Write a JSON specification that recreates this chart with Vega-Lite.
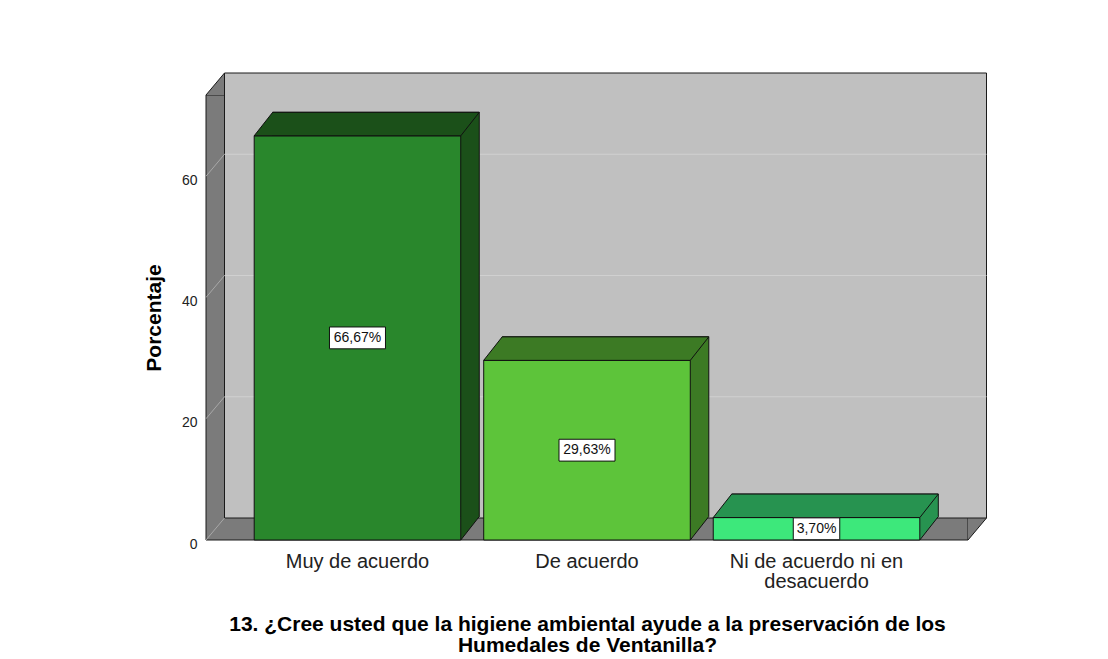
{
  "$schema": "https://vega.github.io/schema/vega-lite/v6.json",
  "width": 762,
  "height": 445,
  "autosize": {"type": "none"},
  "padding": {"left": 206, "top": 95, "right": 140, "bottom": 119},
  "background": "white",
  "config": {"view": {"stroke": null}, "font": "Liberation Sans"},
  "data": {"values": [
    {"respuesta": "Muy de acuerdo", "porcentaje": 66.67, "etiqueta": "66,67%"},
    {"respuesta": "De acuerdo", "porcentaje": 29.63, "etiqueta": "29,63%"},
    {"respuesta": "Ni de acuerdo ni en desacuerdo", "porcentaje": 3.70, "etiqueta": "3,70%"}
  ]},
  "resolve": {"scale": {"y": "independent"}},
  "encoding": {
    "x": {
      "field": "respuesta", "type": "nominal", "sort": null,
      "scale": {"paddingInner": 0.1, "paddingOuter": 0.21},
      "axis": {
        "domain": false, "ticks": false, "grid": false, "labelAngle": 0,
        "labelFontSize": 20, "labelColor": "#222222", "labelPadding": 11, "labelLineHeight": 20, "labelLimit": 0,
        "labelExpr": "datum.value == 'Ni de acuerdo ni en desacuerdo' ? ['Ni de acuerdo ni en', 'desacuerdo'] : datum.label",
        "title": ["13. ¿Cree usted que la higiene ambiental ayude a la preservación de los", "Humedales de Ventanilla?"],
        "titleFontSize": 21, "titleFontWeight": "bold", "titleColor": "#000000", "titleLineHeight": 21, "titlePadding": 22
      }
    }
  },
  "layer": [
    {
      "data": {"values": [{}]},
      "mark": {"type": "rect", "fill": "#7b7b7b", "stroke": "#1a1a1a", "strokeWidth": 1},
      "encoding": {"x": {"value": 0}, "x2": {"value": "width"}, "y": {"value": 0}, "y2": {"value": "height"}}
    },
    {
      "data": {"values": [{}]},
      "mark": {"type": "point", "shape": "M0,0L0.185,-0.22L0.185,0Z", "size": 40000, "filled": true, "fill": "#7b7b7b", "strokeWidth": 0, "opacity": 1},
      "encoding": {"x": {"value": 0}, "y": {"value": 0}}
    },
    {
      "data": {"values": [{}]},
      "mark": {"type": "point", "shape": "M0,0L0,-0.22L0.185,-0.22Z", "size": 40000, "filled": true, "fill": "#7b7b7b", "strokeWidth": 0, "opacity": 1},
      "encoding": {"x": {"value": "width"}, "y": {"value": "height"}}
    },
    {
      "data": {"values": [{}]},
      "mark": {"type": "point", "shape": "M0,0L0.185,-0.22", "size": 40000, "filled": false, "stroke": "#1a1a1a", "strokeWidth": 1, "opacity": 1},
      "encoding": {"x": {"value": 0}, "y": {"value": 0}}
    },
    {
      "data": {"values": [{}]},
      "mark": {"type": "point", "shape": "M0,0L0.185,-0.22", "size": 40000, "filled": false, "stroke": "#1a1a1a", "strokeWidth": 1, "opacity": 1},
      "encoding": {"x": {"value": "width"}, "y": {"value": "height"}}
    },
    {
      "data": {"values": [{}]},
      "mark": {"type": "rect", "fill": "#c0c0c0", "stroke": "#1a1a1a", "strokeWidth": 1, "xOffset": 18.5, "x2Offset": 18.5, "yOffset": -22, "y2Offset": -22},
      "encoding": {"x": {"value": 0}, "x2": {"value": "width"}, "y": {"value": 0}, "y2": {"value": "height"}}
    },
    {
      "data": {"values": [{"v": 20}, {"v": 40}, {"v": 60}]},
      "mark": {"type": "rule", "stroke": "#d0d0d0", "strokeWidth": 1, "xOffset": 18.5, "x2Offset": 18.5, "yOffset": -22},
      "encoding": {
        "x": {"value": 0}, "x2": {"value": "width"},
        "y": {"field": "v", "type": "quantitative", "scale": {"domain": [0, 73.4], "nice": false}, "axis": null}
      }
    },
    {
      "data": {"values": [{"v": 0}, {"v": 20}, {"v": 40}, {"v": 60}]},
      "mark": {"type": "point", "shape": "M0,0L0.185,-0.22", "size": 40000, "filled": false, "stroke": "#a8a8a8", "strokeWidth": 1, "opacity": 1},
      "encoding": {
        "x": {"value": 0},
        "y": {"field": "v", "type": "quantitative", "scale": {"domain": [0, 73.4], "nice": false}, "axis": null}
      }
    },
    {
      "mark": {"type": "bar", "xOffset": 18.5, "yOffset": -23.5, "y2Offset": -23.5, "stroke": "#111111", "strokeWidth": 1},
      "encoding": {
        "y": {"field": "porcentaje", "type": "quantitative", "scale": {"domain": [0, 73.4], "nice": false}, "axis": null},
        "fill": {"field": "respuesta", "type": "nominal", "scale": {"domain": ["Muy de acuerdo", "De acuerdo", "Ni de acuerdo ni en desacuerdo"], "range": ["#1b5019", "#3c7a24", "#279350"]}, "legend": null}
      }
    },
    {
      "mark": {"type": "point", "shape": "M1.033,0L1.033,-0.24L1.218,-0.24L1.218,-0.235Z", "size": 40000, "filled": true, "strokeWidth": 0, "opacity": 1},
      "encoding": {
        "y": {"datum": 0, "type": "quantitative", "scale": {"domain": [0, 73.4], "nice": false}, "axis": null},
        "fill": {"field": "respuesta", "type": "nominal", "scale": {"domain": ["Muy de acuerdo", "De acuerdo", "Ni de acuerdo ni en desacuerdo"], "range": ["#1b5019", "#3c7a24", "#279350"]}, "legend": null}
      }
    },
    {
      "mark": {"type": "bar", "stroke": "#111111", "strokeWidth": 1},
      "encoding": {
        "y": {
          "field": "porcentaje", "type": "quantitative",
          "scale": {"domain": [0, 73.4], "nice": false},
          "axis": {
            "values": [0, 20, 40, 60], "grid": false, "domain": false, "ticks": false,
            "labelFontSize": 14, "labelColor": "#222222", "labelPadding": 9, "labelOffset": 4,
            "title": "Porcentaje", "titleFontSize": 21, "titleFontWeight": "bold", "titleColor": "#000000", "titlePadding": 17
          }
        },
        "color": {"field": "respuesta", "type": "nominal", "scale": {"domain": ["Muy de acuerdo", "De acuerdo", "Ni de acuerdo ni en desacuerdo"], "range": ["#29872c", "#5dc43a", "#3de87b"]}, "legend": null}
      }
    },
    {
      "mark": {"type": "point", "shape": "M-1.033,0L-0.848,-0.235L1.218,-0.235L1.033,0Z", "size": 40000, "filled": true, "stroke": "#111111", "strokeWidth": 1, "opacity": 1},
      "encoding": {
        "y": {"field": "porcentaje", "type": "quantitative", "scale": {"domain": [0, 73.4], "nice": false}, "axis": null},
        "fill": {"field": "respuesta", "type": "nominal", "scale": {"domain": ["Muy de acuerdo", "De acuerdo", "Ni de acuerdo ni en desacuerdo"], "range": ["#1b5019", "#3c7a24", "#279350"]}, "legend": null}
      }
    },
    {
      "mark": {"type": "point", "shape": "M1.033,0L1.218,-0.235", "size": 40000, "filled": false, "stroke": "#111111", "strokeWidth": 1, "opacity": 1},
      "encoding": {
        "y": {"datum": 0, "type": "quantitative", "scale": {"domain": [0, 73.4], "nice": false}, "axis": null}
      }
    },
    {
      "mark": {"type": "point", "size": 3136, "filled": true, "fill": "#ffffff", "stroke": "#111111", "strokeWidth": 1, "opacity": 1},
      "encoding": {
        "y": {"field": "porcentaje", "type": "quantitative", "scale": {"domain": [0, 146.8], "nice": false}, "axis": null},
        "shape": {"field": "respuesta", "type": "nominal", "scale": {"domain": ["Muy de acuerdo", "De acuerdo", "Ni de acuerdo ni en desacuerdo"], "range": ["M-1,-0.39H1V0.39H-1Z", "M-1,-0.39H1V0.39H-1Z", "M-0.83,-0.39H0.83V0.39H-0.83Z"]}, "legend": null}
      }
    },
    {
      "mark": {"type": "text", "fontSize": 14, "color": "#111111", "baseline": "middle", "align": "center"},
      "encoding": {
        "y": {"field": "porcentaje", "type": "quantitative", "scale": {"domain": [0, 146.8], "nice": false}, "axis": null},
        "text": {"field": "etiqueta"}
      }
    }
  ]
}
